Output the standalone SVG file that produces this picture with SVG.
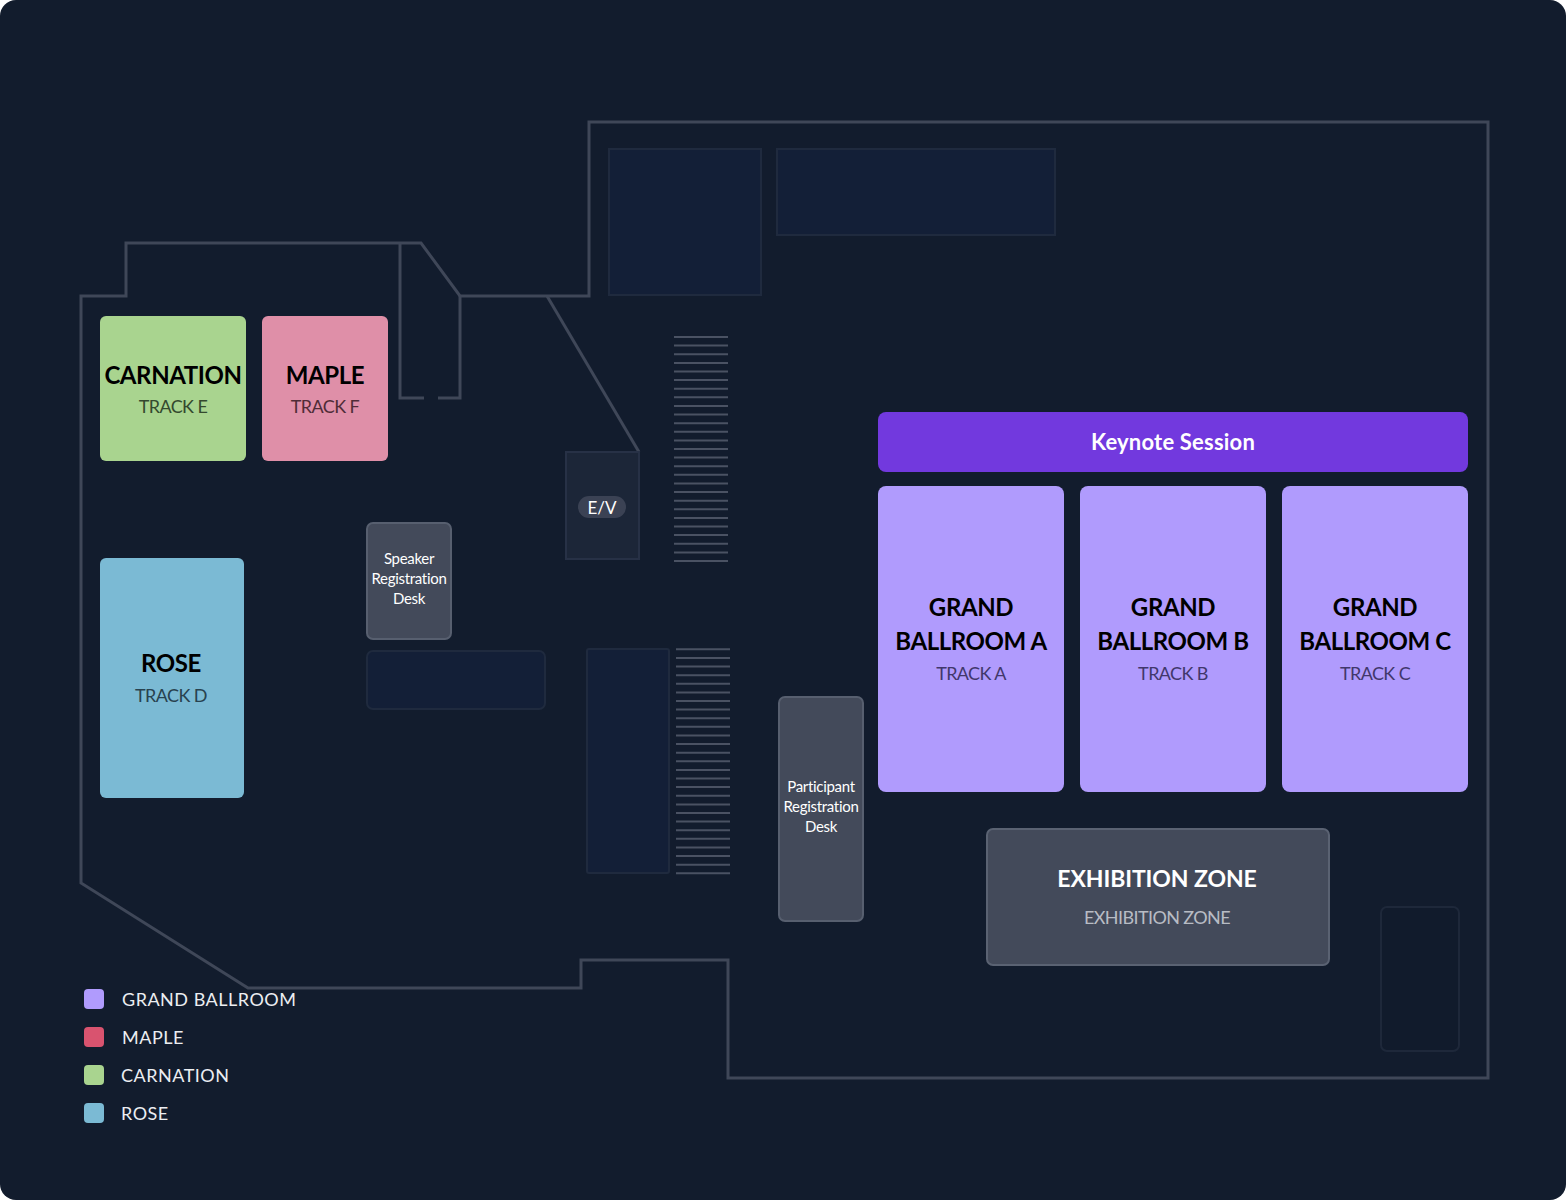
<svg xmlns="http://www.w3.org/2000/svg" width="1566" height="1200" viewBox="0 0 1566 1200">
<style>
.wall{fill:none;stroke:#3f4758;stroke-width:3;stroke-linejoin:miter}
.ghost{fill:#131f37;stroke:#1f2a3e;stroke-width:2}
.stair line{stroke:#4a5263;stroke-width:2}
.t{font-family:Lato,"Noto Sans","Liberation Sans",sans-serif;text-anchor:middle}
.title{font-weight:700;font-size:24px;fill:#000;letter-spacing:-0.4px}
.sub{font-size:18px;letter-spacing:-0.6px}
.desk{fill:#434a5a;stroke:#575f6f;stroke-width:2}
.dtext{font-size:15px;fill:#fff;letter-spacing:-0.3px}
.ball{fill:#b09bfd}
.leg{font-family:Lato,"Noto Sans","Liberation Sans",sans-serif;font-size:18px;fill:#eceef2;letter-spacing:0.5px}
</style>
<rect x="0" y="0" width="1566" height="1200" fill="#ffffff"/>
<rect x="0" y="0" width="1566" height="1200" rx="16" fill="#121c2d"/>

<g id="walls">
<path class="wall" d="M81,296 L126,296 L126,243 L421,243 L460,296 L589,296 L589,122 L1488,122 L1488,1078 L728,1078 L728,960 L581,960 L581,988 L248,988 L81,883 Z"/>
<path class="wall" d="M400,243 L400,398 L424,398 M438,398 L460,398 L460,296"/>
<path class="wall" d="M547,296 L639,452"/>
</g>

<g id="service-areas">
<rect class="ghost" x="609" y="149" width="152" height="146"/>
<rect class="ghost" x="777" y="149" width="278" height="86"/>
<rect class="ghost" x="367" y="651" width="178" height="58" rx="6"/>
<rect class="ghost" x="587" y="649" width="82" height="224" rx="2"/>
<rect x="1381" y="907" width="78" height="144" rx="6" fill="#111b2c" stroke="#1e283a" stroke-width="2"/>
</g>

<g id="stairs-top" class="stair">
<line x1="674" x2="728" y1="337" y2="337"/><line x1="674" x2="728" y1="345.6" y2="345.6"/><line x1="674" x2="728" y1="354.2" y2="354.2"/><line x1="674" x2="728" y1="362.9" y2="362.9"/><line x1="674" x2="728" y1="371.5" y2="371.5"/><line x1="674" x2="728" y1="380.1" y2="380.1"/><line x1="674" x2="728" y1="388.7" y2="388.7"/><line x1="674" x2="728" y1="397.3" y2="397.3"/><line x1="674" x2="728" y1="405.9" y2="405.9"/><line x1="674" x2="728" y1="414.5" y2="414.5"/><line x1="674" x2="728" y1="423.2" y2="423.2"/><line x1="674" x2="728" y1="431.8" y2="431.8"/><line x1="674" x2="728" y1="440.4" y2="440.4"/><line x1="674" x2="728" y1="449" y2="449"/><line x1="674" x2="728" y1="457.6" y2="457.6"/><line x1="674" x2="728" y1="466.2" y2="466.2"/><line x1="674" x2="728" y1="474.8" y2="474.8"/><line x1="674" x2="728" y1="483.5" y2="483.5"/><line x1="674" x2="728" y1="492.1" y2="492.1"/><line x1="674" x2="728" y1="500.7" y2="500.7"/><line x1="674" x2="728" y1="509.3" y2="509.3"/><line x1="674" x2="728" y1="517.9" y2="517.9"/><line x1="674" x2="728" y1="526.5" y2="526.5"/><line x1="674" x2="728" y1="535.1" y2="535.1"/><line x1="674" x2="728" y1="543.8" y2="543.8"/><line x1="674" x2="728" y1="552.4" y2="552.4"/><line x1="674" x2="728" y1="561" y2="561"/>
</g>
<g id="stairs-bottom" class="stair">
<line x1="676" x2="730" y1="649.3" y2="649.3"/><line x1="676" x2="730" y1="657.9" y2="657.9"/><line x1="676" x2="730" y1="666.5" y2="666.5"/><line x1="676" x2="730" y1="675.2" y2="675.2"/><line x1="676" x2="730" y1="683.8" y2="683.8"/><line x1="676" x2="730" y1="692.4" y2="692.4"/><line x1="676" x2="730" y1="701" y2="701"/><line x1="676" x2="730" y1="709.6" y2="709.6"/><line x1="676" x2="730" y1="718.2" y2="718.2"/><line x1="676" x2="730" y1="726.8" y2="726.8"/><line x1="676" x2="730" y1="735.5" y2="735.5"/><line x1="676" x2="730" y1="744.1" y2="744.1"/><line x1="676" x2="730" y1="752.7" y2="752.7"/><line x1="676" x2="730" y1="761.3" y2="761.3"/><line x1="676" x2="730" y1="769.9" y2="769.9"/><line x1="676" x2="730" y1="778.5" y2="778.5"/><line x1="676" x2="730" y1="787.1" y2="787.1"/><line x1="676" x2="730" y1="795.8" y2="795.8"/><line x1="676" x2="730" y1="804.4" y2="804.4"/><line x1="676" x2="730" y1="813" y2="813"/><line x1="676" x2="730" y1="821.6" y2="821.6"/><line x1="676" x2="730" y1="830.2" y2="830.2"/><line x1="676" x2="730" y1="838.8" y2="838.8"/><line x1="676" x2="730" y1="847.4" y2="847.4"/><line x1="676" x2="730" y1="856.1" y2="856.1"/><line x1="676" x2="730" y1="864.7" y2="864.7"/><line x1="676" x2="730" y1="873.3" y2="873.3"/>
</g>

<g id="ev">
<rect x="566" y="452" width="73" height="107" fill="#1c2638" stroke="#273146" stroke-width="2"/>
<rect x="578" y="496" width="48" height="22" rx="11" fill="#3b4254"/>
<text class="t" x="602" y="513.5" font-size="17" fill="#fff">E/V</text>
</g>

<g id="carnation">
<rect x="100" y="316" width="146" height="145" rx="6" fill="#a9d48f"/>
<text class="t title" x="173" y="384">CARNATION</text>
<text class="t sub" x="173" y="413" fill="#34492e">TRACK E</text>
</g>
<g id="maple">
<rect x="262" y="316" width="126" height="145" rx="6" fill="#df8fa8"/>
<text class="t title" x="325" y="384">MAPLE</text>
<text class="t sub" x="325" y="413" fill="#4f2c37">TRACK F</text>
</g>
<g id="rose">
<rect x="100" y="558" width="144" height="240" rx="6" fill="#7bbad4"/>
<text class="t title" x="171" y="672">ROSE</text>
<text class="t sub" x="171" y="702" fill="#28424f">TRACK D</text>
</g>

<g id="speaker-desk">
<rect class="desk" x="367" y="523" width="84" height="116" rx="6"/>
<text class="t dtext" x="409" y="564">Speaker</text>
<text class="t dtext" x="409" y="584">Registration</text>
<text class="t dtext" x="409" y="604">Desk</text>
</g>

<g id="participant-desk">
<rect class="desk" x="779" y="697" width="84" height="224" rx="6"/>
<text class="t dtext" x="821" y="792">Participant</text>
<text class="t dtext" x="821" y="812">Registration</text>
<text class="t dtext" x="821" y="832">Desk</text>
</g>

<g id="keynote">
<rect x="878" y="412" width="590" height="60" rx="8" fill="#7239de"/>
<text class="t" x="1173" y="450" font-size="22" font-weight="700" fill="#fff" letter-spacing="0.2">Keynote Session</text>
</g>

<g id="ballroom-a">
<rect class="ball" x="878" y="486" width="186" height="306" rx="8"/>
<text class="t title" x="971" y="616">GRAND</text>
<text class="t title" x="971" y="650">BALLROOM A</text>
<text class="t sub" x="971" y="680" fill="#41376b">TRACK A</text>
</g>
<g id="ballroom-b">
<rect class="ball" x="1080" y="486" width="186" height="306" rx="8"/>
<text class="t title" x="1173" y="616">GRAND</text>
<text class="t title" x="1173" y="650">BALLROOM B</text>
<text class="t sub" x="1173" y="680" fill="#41376b">TRACK B</text>
</g>
<g id="ballroom-c">
<rect class="ball" x="1282" y="486" width="186" height="306" rx="8"/>
<text class="t title" x="1375" y="616">GRAND</text>
<text class="t title" x="1375" y="650">BALLROOM C</text>
<text class="t sub" x="1375" y="680" fill="#41376b">TRACK C</text>
</g>

<g id="exhibition">
<rect x="987" y="829" width="342" height="136" rx="6" fill="#434a5a" stroke="#5a6272" stroke-width="2"/>
<text class="t" x="1157" y="887" font-size="23" font-weight="700" fill="#fff" letter-spacing="-0.1">EXHIBITION ZONE</text>
<text class="t sub" x="1157" y="924" fill="#b8bcc4" letter-spacing="-0.4">EXHIBITION ZONE</text>
</g>

<g id="legend">
<rect x="84" y="989" width="20" height="20" rx="4" fill="#b09bfd"/>
<text class="leg" x="122" y="1006">GRAND BALLROOM</text>
<rect x="84" y="1027" width="20" height="20" rx="4" fill="#d9536f"/>
<text class="leg" x="122" y="1044">MAPLE</text>
<rect x="84" y="1065" width="20" height="20" rx="4" fill="#a9d48f"/>
<text class="leg" x="121" y="1082">CARNATION</text>
<rect x="84" y="1103" width="20" height="20" rx="4" fill="#7bbad4"/>
<text class="leg" x="121" y="1120">ROSE</text>
</g>
<g id="connectors"></g>
</svg>
